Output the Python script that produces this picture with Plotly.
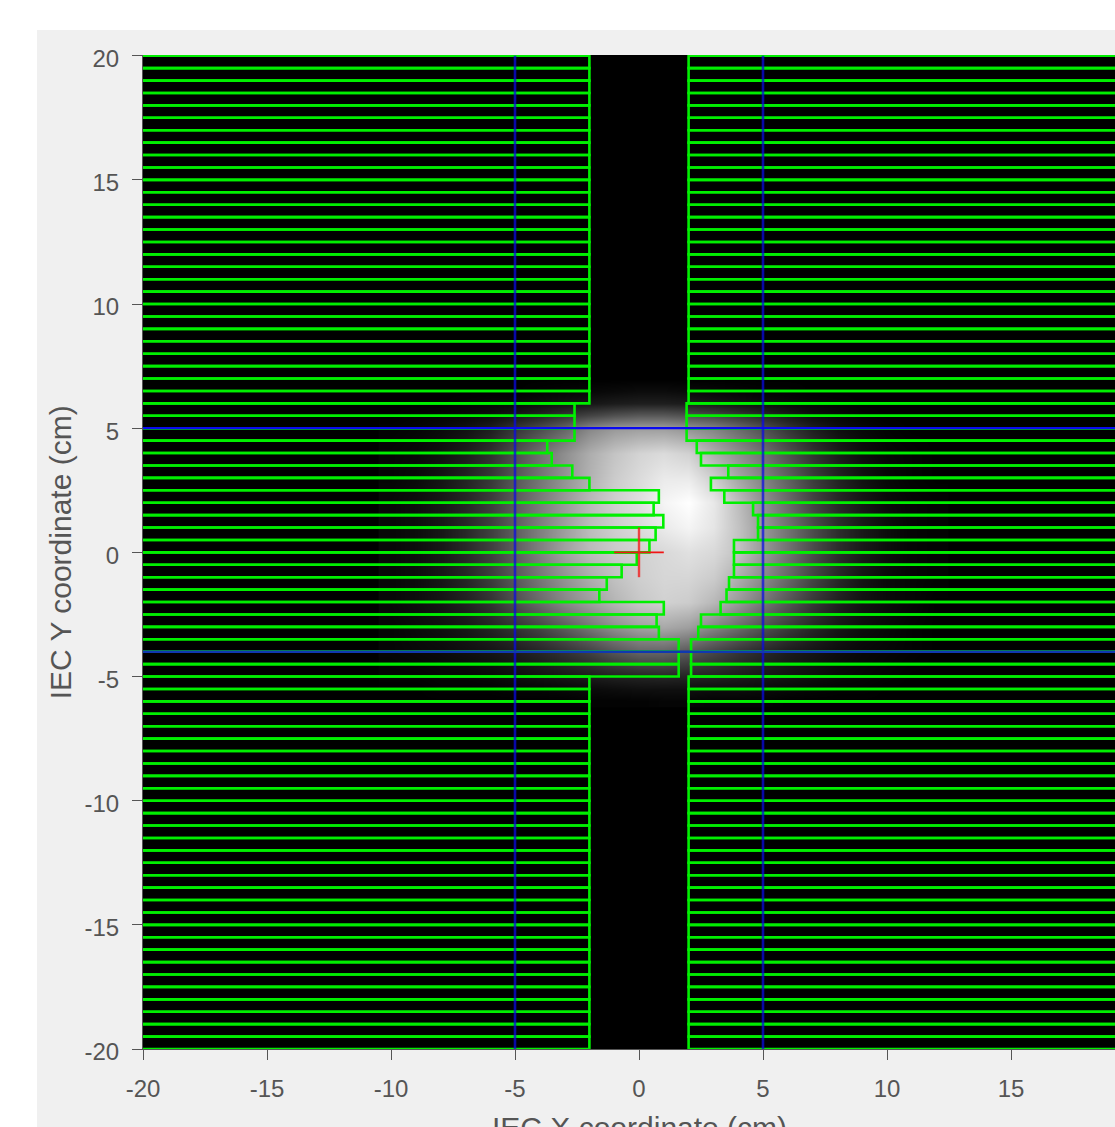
import plotly.graph_objects as go

# Leaf bank edges (cm) for leaves from y=-20 upward, each 0.5 cm wide
leaf_width = 0.5
leaf_bottoms = [-20 + i * leaf_width for i in range(80)]
left_bank = (
    [-2.0] * 30
    + [1.6, 1.6, 1.6, 0.8, 0.71, 1.0, -1.6, -1.3, -0.7, -0.09,
       0.42, 0.67, 0.98, 0.59, 0.8, -2.0, -2.69, -3.52, -3.7,
       -2.6, -2.6, -2.6]
    + [-2.0] * 28
)
right_bank = (
    [2.0] * 30
    + [2.1, 2.1, 2.1, 2.39, 2.5, 3.29, 3.53, 3.63, 3.83, 3.83,
       3.83, 4.8, 4.8, 4.6, 3.44, 2.9, 3.6, 2.5, 2.33,
       1.92, 1.92, 1.92]
    + [2.0] * 28
)

# Fluence image (0 = black, 1 = white)
image_x = list(range(-10, 13))
image_y = [-6, -5.5, -5, -4, -3, -2, -1, 0, 1, 2, 3, 4, 5, 5.5, 6, 6.5, 7]
row_m60 = [0, 0, 0, 0, 0, 0, 0, 0, .01, .01, .01, .02, .02, .01, .01, .01, 0, 0, 0, 0, 0, 0, 0]
row_m55 = [0, 0, .01, .01, .01, .02, .02, .03, .04, .05, .06, .06, .06, .05, .05, .04, .03, .02, .01, .01, 0, 0, 0]
row_m50 = [.01, .01, .02, .02, .03, .05, .07, .09, .11, .13, .14, .15, .14, .13, .11, .09, .07, .05, .03, .02, .01, 0, 0]
row_m40 = [.02, .03, .04, .06, .08, .11, .15, .20, .26, .34, .40, .40, .35, .28, .21, .16, .11, .08, .05, .03, .02, .01, 0]
row_m30 = [.02, .04, .06, .09, .14, .20, .27, .36, .46, .56, .63, .66, .62, .52, .42, .32, .23, .15, .09, .05, .03, .01, 0]
row_m20 = [.03, .05, .08, .13, .20, .31, .42, .53, .62, .71, .78, .82, .80, .72, .60, .47, .34, .22, .13, .07, .04, .02, 0]
row_m10 = [.03, .05, .09, .15, .24, .35, .47, .58, .68, .76, .81, .84, .84, .80, .68, .55, .41, .27, .16, .08, .04, .02, .01]
row_p00 = [.03, .05, .09, .16, .25, .37, .50, .63, .73, .79, .82, .85, .88, .85, .76, .60, .45, .30, .18, .10, .05, .02, .01]
row_p10 = [.03, .05, .09, .16, .25, .37, .50, .62, .74, .81, .86, .92, .96, .90, .76, .60, .45, .30, .18, .10, .05, .02, .01]
row_p20 = [.03, .05, .09, .15, .24, .36, .48, .60, .72, .81, .87, .96, 1.0, .91, .74, .57, .42, .27, .16, .09, .04, .02, .01]
row_p30 = [.02, .04, .08, .14, .22, .34, .46, .58, .70, .80, .86, .92, .92, .81, .65, .52, .38, .24, .14, .07, .03, .01, 0]
row_p40 = [.02, .03, .06, .11, .19, .31, .44, .56, .68, .77, .83, .86, .82, .68, .56, .45, .32, .20, .11, .05, .02, .01, 0]
row_p50 = [.01, .02, .04, .07, .12, .21, .30, .40, .53, .60, .62, .62, .58, .52, .42, .32, .21, .12, .06, .03, .01, 0, 0]
row_p55 = [0, .01, .02, .03, .05, .09, .14, .21, .27, .32, .35, .35, .32, .28, .22, .16, .10, .05, .03, .01, 0, 0, 0]
row_p60 = [0, 0, 0, .01, .02, .03, .05, .07, .09, .11, .12, .12, .11, .09, .07, .05, .03, .02, .01, 0, 0, 0, 0]
row_p65 = [0, 0, 0, 0, 0, 0, .01, .02, .03, .04, .05, .05, .04, .03, .02, .01, .01, 0, 0, 0, 0, 0, 0]
row_p70 = [0] * 23
image_z = [row_m60, row_m55, row_m50, row_m40, row_m30, row_m20, row_m10, row_p00, row_p10,
           row_p20, row_p30, row_p40, row_p50, row_p55, row_p60, row_p65, row_p70]

jaw_x = [-5, 5]
jaw_y = [5, -4]
cross_size = 1
axis_range_left = -20
field_limit = 20
y_range_top = 20.03
x_ticks = [-20, -15, -10, -5, 0, 5, 10, 15]
y_ticks = [-20, -15, -10, -5, 0, 5, 10, 15, 20]

GREEN = "#00f000"
TEXT = "#555555"
FONT = "Liberation Sans, Arial, sans-serif"


def bank_path(edges, outer):
    xs, ys = [], []
    for bottom, edge in zip(leaf_bottoms, edges):
        xs += [outer, edge, edge, outer, None]
        ys += [bottom, bottom, bottom + leaf_width, bottom + leaf_width, None]
    return xs, ys


fig = go.Figure()
fig.add_trace(go.Heatmap(x=image_x, y=image_y, z=image_z, zmin=0, zmax=1, zsmooth="best",
                         colorscale=[[0, "#000000"], [1, "#ffffff"]], showscale=False, hoverinfo="skip"))

lx, ly = bank_path(left_bank, axis_range_left)
rx, ry = bank_path(right_bank, field_limit)
for xs, ys in ((lx, ly), (rx, ry)):
    fig.add_trace(go.Scatter(x=xs, y=ys, mode="lines", cliponaxis=False,
                             line=dict(color=GREEN, width=2.6), hoverinfo="skip"))

for jx in jaw_x:
    fig.add_trace(go.Scatter(x=[jx, jx], y=[-field_limit, field_limit], mode="lines",
                             line=dict(color="rgba(10,10,230,0.72)", width=2.6), hoverinfo="skip"))
fig.add_trace(go.Scatter(x=[-field_limit, field_limit], y=[jaw_y[0]] * 2, mode="lines",
                         line=dict(color="#0a0af0", width=2.2), hoverinfo="skip"))
fig.add_trace(go.Scatter(x=[-field_limit, field_limit], y=[jaw_y[1]] * 2, mode="lines",
                         line=dict(color="#1038b0", width=2.6), hoverinfo="skip"))
fig.add_trace(go.Scatter(x=[-cross_size, cross_size], y=[0, 0], mode="lines",
                         line=dict(color="#f01515", width=1.8), hoverinfo="skip"))
fig.add_trace(go.Scatter(x=[0, 0], y=[-cross_size, cross_size], mode="lines",
                         line=dict(color="rgba(240,30,30,0.8)", width=2.4), hoverinfo="skip"))

W, H = 1115, 1127
ML, MT, MB = 143, 55, 78
plot_w, plot_h = W - ML, H - MT - MB
x_right = axis_range_left + plot_w / 24.8

axis_common = dict(ticks="outside", ticklen=10, tickwidth=1, tickcolor=TEXT, showgrid=False, zeroline=False,
                   showline=True, linecolor=TEXT, linewidth=1,
                   tickfont=dict(family=FONT, size=24, color=TEXT))
fig.update_layout(
    width=W, height=H, autosize=False, showlegend=False,
    margin=dict(l=ML, r=0, t=MT, b=MB, pad=0),
    paper_bgcolor="white", plot_bgcolor="black",
    xaxis=dict(range=[axis_range_left, x_right], tickvals=x_ticks, ticktext=[str(v) for v in x_ticks],
               ticklabelstandoff=8, **axis_common),
    yaxis=dict(range=[-field_limit, y_range_top], tickvals=y_ticks, ticktext=[str(v) for v in y_ticks],
               ticklabelstandoff=8, ticklabelshift=3, **axis_common),
    shapes=[
        dict(type="rect", xref="paper", yref="paper", layer="below", line_width=0,
             x0=(37 - ML) / plot_w, x1=1, y0=-MB / plot_h, y1=1 + (MT - 30) / plot_h, fillcolor="#f0f0f0"),
        dict(type="rect", xref="paper", yref="paper", layer="below", line_width=0,
             x0=0, x1=1, y0=0, y1=1, fillcolor="black"),
    ],
    annotations=[
        dict(text="IEC X coordinate (cm)", xref="x", yref="paper", x=0, y=0, yanchor="middle", xanchor="center",
             yshift=-78, showarrow=False, font=dict(family=FONT, size=30, color=TEXT)),
        dict(text="IEC Y coordinate (cm)", xref="paper", yref="y", x=(60 - ML) / plot_w, y=0, xanchor="center",
             yanchor="middle", textangle=-90, showarrow=False, font=dict(family=FONT, size=30, color=TEXT)),
    ],
)
fig.write_html("out.html", config={"displayModeBar": False},
               post_script="document.body.style.margin='0';document.body.style.overflow='hidden';")
